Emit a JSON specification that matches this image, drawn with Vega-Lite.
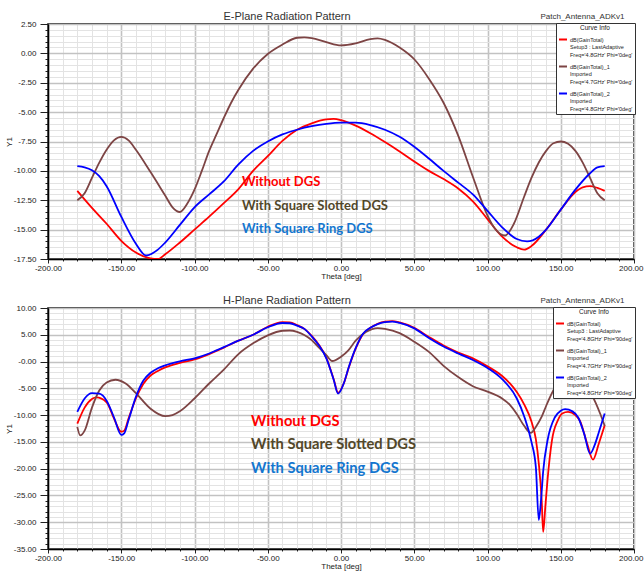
{
  "$schema": "https://vega.github.io/schema/vega-lite/v6.json",
  "background": "white",
  "padding": {"left": 4, "top": 10, "right": 0, "bottom": 0},
  "spacing": 13,
  "config": {
    "font": "Liberation Sans",
    "view": {"stroke": "black", "strokeWidth": 1.5},
    "axis": {"labelFont": "Liberation Sans", "labelFontSize": 8, "labelColor": "#222", "titleFont": "Liberation Sans", "titleFontSize": 8, "titleFontWeight": "normal", "titleColor": "#222", "domainColor": "black", "domainWidth": 1.5, "tickColor": "#222", "labelOverlap": false, "labelFlush": false}
  },
  "datasets": {
    "eplane": [
      {"curve": "dB(GainTotal)", "theta": -180, "dB": -11.7}, {"curve": "dB(GainTotal)", "theta": -170, "dB": -13.15}, {"curve": "dB(GainTotal)", "theta": -160, "dB": -14.5}, {"curve": "dB(GainTotal)", "theta": -150, "dB": -15.95}, {"curve": "dB(GainTotal)", "theta": -140, "dB": -16.95}, {"curve": "dB(GainTotal)", "theta": -130, "dB": -17.45}, {"curve": "dB(GainTotal)", "theta": -125, "dB": -17.5}, {"curve": "dB(GainTotal)", "theta": -120, "dB": -17.1}, {"curve": "dB(GainTotal)", "theta": -110, "dB": -16.1}, {"curve": "dB(GainTotal)", "theta": -100, "dB": -15.0}, {"curve": "dB(GainTotal)", "theta": -90, "dB": -13.9}, {"curve": "dB(GainTotal)", "theta": -80, "dB": -12.75}, {"curve": "dB(GainTotal)", "theta": -70, "dB": -11.55}, {"curve": "dB(GainTotal)", "theta": -60, "dB": -10.0}, {"curve": "dB(GainTotal)", "theta": -50, "dB": -8.75}, {"curve": "dB(GainTotal)", "theta": -40, "dB": -7.45}, {"curve": "dB(GainTotal)", "theta": -30, "dB": -6.5}, {"curve": "dB(GainTotal)", "theta": -20, "dB": -5.95}, {"curve": "dB(GainTotal)", "theta": -10, "dB": -5.62}, {"curve": "dB(GainTotal)", "theta": -5, "dB": -5.58}, {"curve": "dB(GainTotal)", "theta": 0, "dB": -5.68}, {"curve": "dB(GainTotal)", "theta": 10, "dB": -6.15}, {"curve": "dB(GainTotal)", "theta": 20, "dB": -6.8}, {"curve": "dB(GainTotal)", "theta": 30, "dB": -7.55}, {"curve": "dB(GainTotal)", "theta": 40, "dB": -8.35}, {"curve": "dB(GainTotal)", "theta": 50, "dB": -9.2}, {"curve": "dB(GainTotal)", "theta": 60, "dB": -10.0}, {"curve": "dB(GainTotal)", "theta": 70, "dB": -10.7}, {"curve": "dB(GainTotal)", "theta": 80, "dB": -11.5}, {"curve": "dB(GainTotal)", "theta": 90, "dB": -12.6}, {"curve": "dB(GainTotal)", "theta": 100, "dB": -14.1}, {"curve": "dB(GainTotal)", "theta": 110, "dB": -15.6}, {"curve": "dB(GainTotal)", "theta": 120, "dB": -16.5}, {"curve": "dB(GainTotal)", "theta": 125, "dB": -16.7}, {"curve": "dB(GainTotal)", "theta": 130, "dB": -16.4}, {"curve": "dB(GainTotal)", "theta": 140, "dB": -15.0}, {"curve": "dB(GainTotal)", "theta": 150, "dB": -13.3}, {"curve": "dB(GainTotal)", "theta": 160, "dB": -11.8}, {"curve": "dB(GainTotal)", "theta": 165, "dB": -11.4}, {"curve": "dB(GainTotal)", "theta": 170, "dB": -11.3}, {"curve": "dB(GainTotal)", "theta": 175, "dB": -11.45}, {"curve": "dB(GainTotal)", "theta": 180, "dB": -11.7},
      {"curve": "dB(GainTotal)_1", "theta": -180, "dB": -12.5}, {"curve": "dB(GainTotal)_1", "theta": -175, "dB": -11.9}, {"curve": "dB(GainTotal)_1", "theta": -170, "dB": -10.6}, {"curve": "dB(GainTotal)_1", "theta": -165, "dB": -9.3}, {"curve": "dB(GainTotal)_1", "theta": -160, "dB": -8.2}, {"curve": "dB(GainTotal)_1", "theta": -155, "dB": -7.4}, {"curve": "dB(GainTotal)_1", "theta": -150, "dB": -7.1}, {"curve": "dB(GainTotal)_1", "theta": -145, "dB": -7.4}, {"curve": "dB(GainTotal)_1", "theta": -140, "dB": -8.2}, {"curve": "dB(GainTotal)_1", "theta": -130, "dB": -10.1}, {"curve": "dB(GainTotal)_1", "theta": -120, "dB": -12.1}, {"curve": "dB(GainTotal)_1", "theta": -115, "dB": -13.1}, {"curve": "dB(GainTotal)_1", "theta": -110, "dB": -13.5}, {"curve": "dB(GainTotal)_1", "theta": -105, "dB": -12.8}, {"curve": "dB(GainTotal)_1", "theta": -100, "dB": -11.6}, {"curve": "dB(GainTotal)_1", "theta": -95, "dB": -10.0}, {"curve": "dB(GainTotal)_1", "theta": -90, "dB": -8.3}, {"curve": "dB(GainTotal)_1", "theta": -85, "dB": -6.9}, {"curve": "dB(GainTotal)_1", "theta": -80, "dB": -5.5}, {"curve": "dB(GainTotal)_1", "theta": -75, "dB": -4.2}, {"curve": "dB(GainTotal)_1", "theta": -70, "dB": -3.1}, {"curve": "dB(GainTotal)_1", "theta": -60, "dB": -1.3}, {"curve": "dB(GainTotal)_1", "theta": -50, "dB": -0.05}, {"curve": "dB(GainTotal)_1", "theta": -40, "dB": 0.75}, {"curve": "dB(GainTotal)_1", "theta": -30, "dB": 1.33}, {"curve": "dB(GainTotal)_1", "theta": -25, "dB": 1.37}, {"curve": "dB(GainTotal)_1", "theta": -20, "dB": 1.3}, {"curve": "dB(GainTotal)_1", "theta": -10, "dB": 0.95}, {"curve": "dB(GainTotal)_1", "theta": 0, "dB": 0.68}, {"curve": "dB(GainTotal)_1", "theta": 10, "dB": 0.85}, {"curve": "dB(GainTotal)_1", "theta": 20, "dB": 1.22}, {"curve": "dB(GainTotal)_1", "theta": 25, "dB": 1.28}, {"curve": "dB(GainTotal)_1", "theta": 30, "dB": 1.15}, {"curve": "dB(GainTotal)_1", "theta": 40, "dB": 0.5}, {"curve": "dB(GainTotal)_1", "theta": 50, "dB": -0.5}, {"curve": "dB(GainTotal)_1", "theta": 60, "dB": -2.15}, {"curve": "dB(GainTotal)_1", "theta": 70, "dB": -4.2}, {"curve": "dB(GainTotal)_1", "theta": 80, "dB": -7.0}, {"curve": "dB(GainTotal)_1", "theta": 90, "dB": -10.5}, {"curve": "dB(GainTotal)_1", "theta": 100, "dB": -13.8}, {"curve": "dB(GainTotal)_1", "theta": 105, "dB": -14.9}, {"curve": "dB(GainTotal)_1", "theta": 112, "dB": -15.5}, {"curve": "dB(GainTotal)_1", "theta": 118, "dB": -14.5}, {"curve": "dB(GainTotal)_1", "theta": 125, "dB": -12.2}, {"curve": "dB(GainTotal)_1", "theta": 130, "dB": -10.6}, {"curve": "dB(GainTotal)_1", "theta": 140, "dB": -8.3}, {"curve": "dB(GainTotal)_1", "theta": 145, "dB": -7.65}, {"curve": "dB(GainTotal)_1", "theta": 150, "dB": -7.5}, {"curve": "dB(GainTotal)_1", "theta": 155, "dB": -7.7}, {"curve": "dB(GainTotal)_1", "theta": 160, "dB": -8.3}, {"curve": "dB(GainTotal)_1", "theta": 165, "dB": -9.3}, {"curve": "dB(GainTotal)_1", "theta": 170, "dB": -10.6}, {"curve": "dB(GainTotal)_1", "theta": 175, "dB": -11.9}, {"curve": "dB(GainTotal)_1", "theta": 180, "dB": -12.5},
      {"curve": "dB(GainTotal)_2", "theta": -180, "dB": -9.6}, {"curve": "dB(GainTotal)_2", "theta": -175, "dB": -9.7}, {"curve": "dB(GainTotal)_2", "theta": -170, "dB": -9.95}, {"curve": "dB(GainTotal)_2", "theta": -165, "dB": -10.45}, {"curve": "dB(GainTotal)_2", "theta": -160, "dB": -11.3}, {"curve": "dB(GainTotal)_2", "theta": -150, "dB": -13.9}, {"curve": "dB(GainTotal)_2", "theta": -140, "dB": -16.2}, {"curve": "dB(GainTotal)_2", "theta": -133, "dB": -17.2}, {"curve": "dB(GainTotal)_2", "theta": -125, "dB": -16.7}, {"curve": "dB(GainTotal)_2", "theta": -120, "dB": -16.1}, {"curve": "dB(GainTotal)_2", "theta": -110, "dB": -14.6}, {"curve": "dB(GainTotal)_2", "theta": -100, "dB": -13.1}, {"curve": "dB(GainTotal)_2", "theta": -90, "dB": -12.0}, {"curve": "dB(GainTotal)_2", "theta": -80, "dB": -10.9}, {"curve": "dB(GainTotal)_2", "theta": -70, "dB": -9.45}, {"curve": "dB(GainTotal)_2", "theta": -60, "dB": -8.3}, {"curve": "dB(GainTotal)_2", "theta": -50, "dB": -7.5}, {"curve": "dB(GainTotal)_2", "theta": -40, "dB": -6.9}, {"curve": "dB(GainTotal)_2", "theta": -30, "dB": -6.5}, {"curve": "dB(GainTotal)_2", "theta": -20, "dB": -6.2}, {"curve": "dB(GainTotal)_2", "theta": -10, "dB": -6.0}, {"curve": "dB(GainTotal)_2", "theta": 0, "dB": -5.9}, {"curve": "dB(GainTotal)_2", "theta": 10, "dB": -5.9}, {"curve": "dB(GainTotal)_2", "theta": 20, "dB": -6.1}, {"curve": "dB(GainTotal)_2", "theta": 30, "dB": -6.5}, {"curve": "dB(GainTotal)_2", "theta": 40, "dB": -7.1}, {"curve": "dB(GainTotal)_2", "theta": 50, "dB": -7.95}, {"curve": "dB(GainTotal)_2", "theta": 60, "dB": -8.95}, {"curve": "dB(GainTotal)_2", "theta": 70, "dB": -10.0}, {"curve": "dB(GainTotal)_2", "theta": 80, "dB": -11.0}, {"curve": "dB(GainTotal)_2", "theta": 90, "dB": -12.0}, {"curve": "dB(GainTotal)_2", "theta": 100, "dB": -13.4}, {"curve": "dB(GainTotal)_2", "theta": 110, "dB": -14.8}, {"curve": "dB(GainTotal)_2", "theta": 120, "dB": -15.8}, {"curve": "dB(GainTotal)_2", "theta": 127, "dB": -16.0}, {"curve": "dB(GainTotal)_2", "theta": 135, "dB": -15.6}, {"curve": "dB(GainTotal)_2", "theta": 140, "dB": -15.0}, {"curve": "dB(GainTotal)_2", "theta": 150, "dB": -13.3}, {"curve": "dB(GainTotal)_2", "theta": 160, "dB": -11.6}, {"curve": "dB(GainTotal)_2", "theta": 170, "dB": -10.2}, {"curve": "dB(GainTotal)_2", "theta": 175, "dB": -9.7}, {"curve": "dB(GainTotal)_2", "theta": 180, "dB": -9.6}
    ],
    "hplane": [
      {"curve": "dB(GainTotal)", "theta": -180, "dB": -11.6}, {"curve": "dB(GainTotal)", "theta": -175, "dB": -8.6}, {"curve": "dB(GainTotal)", "theta": -170, "dB": -7.0}, {"curve": "dB(GainTotal)", "theta": -167, "dB": -6.7}, {"curve": "dB(GainTotal)", "theta": -160, "dB": -7.6}, {"curve": "dB(GainTotal)", "theta": -155, "dB": -10.6}, {"curve": "dB(GainTotal)", "theta": -150, "dB": -13.1}, {"curve": "dB(GainTotal)", "theta": -148, "dB": -12.9}, {"curve": "dB(GainTotal)", "theta": -145, "dB": -10.6}, {"curve": "dB(GainTotal)", "theta": -140, "dB": -6.9}, {"curve": "dB(GainTotal)", "theta": -135, "dB": -4.2}, {"curve": "dB(GainTotal)", "theta": -130, "dB": -2.6}, {"curve": "dB(GainTotal)", "theta": -125, "dB": -1.75}, {"curve": "dB(GainTotal)", "theta": -120, "dB": -1.1}, {"curve": "dB(GainTotal)", "theta": -110, "dB": -0.25}, {"curve": "dB(GainTotal)", "theta": -100, "dB": 0.4}, {"curve": "dB(GainTotal)", "theta": -90, "dB": 1.4}, {"curve": "dB(GainTotal)", "theta": -80, "dB": 2.6}, {"curve": "dB(GainTotal)", "theta": -70, "dB": 3.9}, {"curve": "dB(GainTotal)", "theta": -60, "dB": 5.0}, {"curve": "dB(GainTotal)", "theta": -50, "dB": 6.5}, {"curve": "dB(GainTotal)", "theta": -40, "dB": 7.35}, {"curve": "dB(GainTotal)", "theta": -35, "dB": 7.3}, {"curve": "dB(GainTotal)", "theta": -30, "dB": 6.8}, {"curve": "dB(GainTotal)", "theta": -25, "dB": 6.1}, {"curve": "dB(GainTotal)", "theta": -20, "dB": 4.8}, {"curve": "dB(GainTotal)", "theta": -15, "dB": 3.1}, {"curve": "dB(GainTotal)", "theta": -10, "dB": 0.7}, {"curve": "dB(GainTotal)", "theta": -5, "dB": -3.3}, {"curve": "dB(GainTotal)", "theta": -2, "dB": -5.8}, {"curve": "dB(GainTotal)", "theta": 2, "dB": -4.0}, {"curve": "dB(GainTotal)", "theta": 5, "dB": -1.4}, {"curve": "dB(GainTotal)", "theta": 10, "dB": 2.4}, {"curve": "dB(GainTotal)", "theta": 15, "dB": 5.1}, {"curve": "dB(GainTotal)", "theta": 20, "dB": 6.3}, {"curve": "dB(GainTotal)", "theta": 25, "dB": 7.05}, {"curve": "dB(GainTotal)", "theta": 30, "dB": 7.45}, {"curve": "dB(GainTotal)", "theta": 35, "dB": 7.55}, {"curve": "dB(GainTotal)", "theta": 40, "dB": 7.3}, {"curve": "dB(GainTotal)", "theta": 50, "dB": 6.3}, {"curve": "dB(GainTotal)", "theta": 60, "dB": 4.6}, {"curve": "dB(GainTotal)", "theta": 70, "dB": 3.0}, {"curve": "dB(GainTotal)", "theta": 80, "dB": 1.7}, {"curve": "dB(GainTotal)", "theta": 90, "dB": 0.6}, {"curve": "dB(GainTotal)", "theta": 100, "dB": -0.9}, {"curve": "dB(GainTotal)", "theta": 110, "dB": -2.7}, {"curve": "dB(GainTotal)", "theta": 115, "dB": -4.0}, {"curve": "dB(GainTotal)", "theta": 120, "dB": -5.7}, {"curve": "dB(GainTotal)", "theta": 125, "dB": -8.0}, {"curve": "dB(GainTotal)", "theta": 130, "dB": -11.2}, {"curve": "dB(GainTotal)", "theta": 133, "dB": -14.5}, {"curve": "dB(GainTotal)", "theta": 135, "dB": -19.0}, {"curve": "dB(GainTotal)", "theta": 137, "dB": -26.0}, {"curve": "dB(GainTotal)", "theta": 138, "dB": -31.8}, {"curve": "dB(GainTotal)", "theta": 139.5, "dB": -27.0}, {"curve": "dB(GainTotal)", "theta": 141, "dB": -22.0}, {"curve": "dB(GainTotal)", "theta": 144, "dB": -14.7}, {"curve": "dB(GainTotal)", "theta": 148, "dB": -11.0}, {"curve": "dB(GainTotal)", "theta": 151, "dB": -9.7}, {"curve": "dB(GainTotal)", "theta": 155, "dB": -9.4}, {"curve": "dB(GainTotal)", "theta": 160, "dB": -10.0}, {"curve": "dB(GainTotal)", "theta": 163, "dB": -11.0}, {"curve": "dB(GainTotal)", "theta": 168, "dB": -15.3}, {"curve": "dB(GainTotal)", "theta": 172, "dB": -18.3}, {"curve": "dB(GainTotal)", "theta": 176, "dB": -15.3}, {"curve": "dB(GainTotal)", "theta": 180, "dB": -11.9},
      {"curve": "dB(GainTotal)_1", "theta": -180, "dB": -12.2}, {"curve": "dB(GainTotal)_1", "theta": -178, "dB": -13.8}, {"curve": "dB(GainTotal)_1", "theta": -175, "dB": -12.9}, {"curve": "dB(GainTotal)_1", "theta": -170, "dB": -8.6}, {"curve": "dB(GainTotal)_1", "theta": -165, "dB": -5.4}, {"curve": "dB(GainTotal)_1", "theta": -160, "dB": -3.9}, {"curve": "dB(GainTotal)_1", "theta": -154, "dB": -3.4}, {"curve": "dB(GainTotal)_1", "theta": -147, "dB": -4.1}, {"curve": "dB(GainTotal)_1", "theta": -140, "dB": -5.9}, {"curve": "dB(GainTotal)_1", "theta": -130, "dB": -8.8}, {"curve": "dB(GainTotal)_1", "theta": -120, "dB": -10.2}, {"curve": "dB(GainTotal)_1", "theta": -115, "dB": -10.0}, {"curve": "dB(GainTotal)_1", "theta": -110, "dB": -9.3}, {"curve": "dB(GainTotal)_1", "theta": -100, "dB": -6.9}, {"curve": "dB(GainTotal)_1", "theta": -90, "dB": -4.1}, {"curve": "dB(GainTotal)_1", "theta": -80, "dB": -1.5}, {"curve": "dB(GainTotal)_1", "theta": -70, "dB": 1.4}, {"curve": "dB(GainTotal)_1", "theta": -60, "dB": 3.4}, {"curve": "dB(GainTotal)_1", "theta": -50, "dB": 4.9}, {"curve": "dB(GainTotal)_1", "theta": -40, "dB": 5.75}, {"curve": "dB(GainTotal)_1", "theta": -35, "dB": 5.8}, {"curve": "dB(GainTotal)_1", "theta": -30, "dB": 5.55}, {"curve": "dB(GainTotal)_1", "theta": -20, "dB": 4.0}, {"curve": "dB(GainTotal)_1", "theta": -15, "dB": 2.6}, {"curve": "dB(GainTotal)_1", "theta": -10, "dB": 1.2}, {"curve": "dB(GainTotal)_1", "theta": -6, "dB": 0.1}, {"curve": "dB(GainTotal)_1", "theta": 0, "dB": 0.9}, {"curve": "dB(GainTotal)_1", "theta": 5, "dB": 2.1}, {"curve": "dB(GainTotal)_1", "theta": 10, "dB": 3.9}, {"curve": "dB(GainTotal)_1", "theta": 17, "dB": 5.5}, {"curve": "dB(GainTotal)_1", "theta": 25, "dB": 6.25}, {"curve": "dB(GainTotal)_1", "theta": 30, "dB": 6.1}, {"curve": "dB(GainTotal)_1", "theta": 40, "dB": 5.3}, {"curve": "dB(GainTotal)_1", "theta": 50, "dB": 3.7}, {"curve": "dB(GainTotal)_1", "theta": 60, "dB": 1.8}, {"curve": "dB(GainTotal)_1", "theta": 70, "dB": -0.8}, {"curve": "dB(GainTotal)_1", "theta": 80, "dB": -2.9}, {"curve": "dB(GainTotal)_1", "theta": 90, "dB": -4.6}, {"curve": "dB(GainTotal)_1", "theta": 100, "dB": -5.6}, {"curve": "dB(GainTotal)_1", "theta": 110, "dB": -6.9}, {"curve": "dB(GainTotal)_1", "theta": 115, "dB": -8.0}, {"curve": "dB(GainTotal)_1", "theta": 120, "dB": -9.8}, {"curve": "dB(GainTotal)_1", "theta": 125, "dB": -12.0}, {"curve": "dB(GainTotal)_1", "theta": 129.5, "dB": -13.3}, {"curve": "dB(GainTotal)_1", "theta": 133, "dB": -12.2}, {"curve": "dB(GainTotal)_1", "theta": 137, "dB": -10.3}, {"curve": "dB(GainTotal)_1", "theta": 140, "dB": -8.3}, {"curve": "dB(GainTotal)_1", "theta": 146, "dB": -4.9}, {"curve": "dB(GainTotal)_1", "theta": 150, "dB": -3.6}, {"curve": "dB(GainTotal)_1", "theta": 155, "dB": -2.6}, {"curve": "dB(GainTotal)_1", "theta": 160, "dB": -2.3}, {"curve": "dB(GainTotal)_1", "theta": 165, "dB": -3.3}, {"curve": "dB(GainTotal)_1", "theta": 170, "dB": -5.6}, {"curve": "dB(GainTotal)_1", "theta": 174, "dB": -7.8}, {"curve": "dB(GainTotal)_1", "theta": 177, "dB": -9.8}, {"curve": "dB(GainTotal)_1", "theta": 180, "dB": -12.0},
      {"curve": "dB(GainTotal)_2", "theta": -180, "dB": -9.4}, {"curve": "dB(GainTotal)_2", "theta": -175, "dB": -6.9}, {"curve": "dB(GainTotal)_2", "theta": -170, "dB": -5.9}, {"curve": "dB(GainTotal)_2", "theta": -165, "dB": -6.0}, {"curve": "dB(GainTotal)_2", "theta": -160, "dB": -7.3}, {"curve": "dB(GainTotal)_2", "theta": -155, "dB": -10.4}, {"curve": "dB(GainTotal)_2", "theta": -150, "dB": -13.7}, {"curve": "dB(GainTotal)_2", "theta": -148, "dB": -13.4}, {"curve": "dB(GainTotal)_2", "theta": -145, "dB": -10.9}, {"curve": "dB(GainTotal)_2", "theta": -140, "dB": -6.6}, {"curve": "dB(GainTotal)_2", "theta": -135, "dB": -3.6}, {"curve": "dB(GainTotal)_2", "theta": -130, "dB": -2.1}, {"curve": "dB(GainTotal)_2", "theta": -125, "dB": -1.25}, {"curve": "dB(GainTotal)_2", "theta": -120, "dB": -0.7}, {"curve": "dB(GainTotal)_2", "theta": -110, "dB": 0.05}, {"curve": "dB(GainTotal)_2", "theta": -100, "dB": 0.6}, {"curve": "dB(GainTotal)_2", "theta": -90, "dB": 1.5}, {"curve": "dB(GainTotal)_2", "theta": -80, "dB": 2.7}, {"curve": "dB(GainTotal)_2", "theta": -70, "dB": 3.9}, {"curve": "dB(GainTotal)_2", "theta": -60, "dB": 5.0}, {"curve": "dB(GainTotal)_2", "theta": -50, "dB": 6.4}, {"curve": "dB(GainTotal)_2", "theta": -40, "dB": 7.2}, {"curve": "dB(GainTotal)_2", "theta": -35, "dB": 7.15}, {"curve": "dB(GainTotal)_2", "theta": -30, "dB": 6.7}, {"curve": "dB(GainTotal)_2", "theta": -25, "dB": 6.1}, {"curve": "dB(GainTotal)_2", "theta": -20, "dB": 4.7}, {"curve": "dB(GainTotal)_2", "theta": -15, "dB": 3.0}, {"curve": "dB(GainTotal)_2", "theta": -10, "dB": 0.6}, {"curve": "dB(GainTotal)_2", "theta": -5, "dB": -3.4}, {"curve": "dB(GainTotal)_2", "theta": -2, "dB": -6.0}, {"curve": "dB(GainTotal)_2", "theta": 2, "dB": -4.0}, {"curve": "dB(GainTotal)_2", "theta": 5, "dB": -1.3}, {"curve": "dB(GainTotal)_2", "theta": 10, "dB": 2.5}, {"curve": "dB(GainTotal)_2", "theta": 15, "dB": 5.2}, {"curve": "dB(GainTotal)_2", "theta": 20, "dB": 6.3}, {"curve": "dB(GainTotal)_2", "theta": 25, "dB": 7.0}, {"curve": "dB(GainTotal)_2", "theta": 30, "dB": 7.35}, {"curve": "dB(GainTotal)_2", "theta": 35, "dB": 7.45}, {"curve": "dB(GainTotal)_2", "theta": 40, "dB": 7.2}, {"curve": "dB(GainTotal)_2", "theta": 50, "dB": 6.2}, {"curve": "dB(GainTotal)_2", "theta": 60, "dB": 4.4}, {"curve": "dB(GainTotal)_2", "theta": 70, "dB": 2.8}, {"curve": "dB(GainTotal)_2", "theta": 80, "dB": 1.5}, {"curve": "dB(GainTotal)_2", "theta": 90, "dB": 0.3}, {"curve": "dB(GainTotal)_2", "theta": 100, "dB": -1.2}, {"curve": "dB(GainTotal)_2", "theta": 110, "dB": -3.3}, {"curve": "dB(GainTotal)_2", "theta": 120, "dB": -6.9}, {"curve": "dB(GainTotal)_2", "theta": 125, "dB": -10.2}, {"curve": "dB(GainTotal)_2", "theta": 130, "dB": -15.0}, {"curve": "dB(GainTotal)_2", "theta": 133, "dB": -19.7}, {"curve": "dB(GainTotal)_2", "theta": 135, "dB": -29.6}, {"curve": "dB(GainTotal)_2", "theta": 136.5, "dB": -26.0}, {"curve": "dB(GainTotal)_2", "theta": 138, "dB": -20.5}, {"curve": "dB(GainTotal)_2", "theta": 141, "dB": -14.7}, {"curve": "dB(GainTotal)_2", "theta": 146, "dB": -10.4}, {"curve": "dB(GainTotal)_2", "theta": 150, "dB": -9.2}, {"curve": "dB(GainTotal)_2", "theta": 153, "dB": -8.9}, {"curve": "dB(GainTotal)_2", "theta": 158, "dB": -9.3}, {"curve": "dB(GainTotal)_2", "theta": 162, "dB": -10.5}, {"curve": "dB(GainTotal)_2", "theta": 166, "dB": -13.5}, {"curve": "dB(GainTotal)_2", "theta": 170, "dB": -17.2}, {"curve": "dB(GainTotal)_2", "theta": 173, "dB": -15.7}, {"curve": "dB(GainTotal)_2", "theta": 176, "dB": -13.2}, {"curve": "dB(GainTotal)_2", "theta": 180, "dB": -9.7}
    ],
    "notesE": [
      {"theta": -67.6, "dB": -10.95, "label": "Without DGS"},
      {"theta": -67.6, "dB": -12.99, "label": "With Square Slotted DGS"},
      {"theta": -67.6, "dB": -14.95, "label": "With Square Ring DGS"}
    ],
    "notesH": [
      {"theta": -61.4, "dB": -11.34, "label": "Without DGS"},
      {"theta": -61.4, "dB": -15.6, "label": "With Square Slotted DGS"},
      {"theta": -61.4, "dB": -20.1, "label": "With Square Ring DGS"}
    ]
  },
  "vconcat": [
    {
      "width": 586, "height": 235,
      "title": {"text": "E-Plane Radiation Pattern", "fontSize": 11, "fontWeight": "normal", "color": "#333", "font": "Liberation Sans", "frame": "group", "anchor": "middle", "dx": -54, "offset": -10},
      "layer": [
        {
          "data": {"name": "eplane"},
          "mark": {"type": "line", "strokeWidth": 1.8, "interpolate": "monotone", "clip": true},
          "encoding": {
            "x": {"field": "theta", "type": "quantitative", "scale": {"domain": [-200, 200], "nice": false, "zero": false},
              "axis": {"title": "Theta [deg]", "titlePadding": 0, "grid": true, "labelOverlap": false, "values": [-200,-190,-180,-170,-160,-150,-140,-130,-120,-110,-100,-90,-80,-70,-60,-50,-40,-30,-20,-10,0,10,20,30,40,50,60,70,80,90,100,110,120,130,140,150,160,170,180,190,200],
                "labelExpr": "datum.value % 50 === 0 ? replace(format(datum.value, '.2f'), '\u2212', '-') : ''",
                "labelAlign": {"condition": {"test": "datum.value === 200", "value": "right"}, "value": "center"},
                "labelOffset": {"condition": {"test": "datum.value === 200", "value": 9}, "value": 0},
                "gridColor": {"condition": {"test": "datum.value % 50 === 0", "value": "#c2c2c2"}, "value": "#e3e3e3"},
                "gridWidth": {"condition": {"test": "datum.value % 50 === 0", "value": 1.6}, "value": 1},
                "tickSize": {"condition": {"test": "datum.value % 50 === 0", "value": 4}, "value": 2},
                "labelPadding": 1}},
            "y": {"field": "dB", "type": "quantitative", "scale": {"domain": [-17.5, 2.5], "nice": false, "zero": false},
              "axis": {"title": "Y1", "titlePadding": 0, "grid": true, "labelOverlap": false, "values": [-17.5,-17,-16.5,-16,-15.5,-15,-14.5,-14,-13.5,-13,-12.5,-12,-11.5,-11,-10.5,-10,-9.5,-9,-8.5,-8,-7.5,-7,-6.5,-6,-5.5,-5,-4.5,-4,-3.5,-3,-2.5,-2,-1.5,-1,-0.5,0,0.5,1,1.5,2,2.5],
                "labelExpr": "datum.value % 2.5 === 0 ? replace(format(datum.value, '.2f'), '\u2212', '-') : ''",
                "gridColor": {"condition": {"test": "datum.value % 2.5 === 0", "value": "#c2c2c2"}, "value": "#e3e3e3"},
                "gridWidth": {"condition": {"test": "datum.value % 2.5 === 0", "value": 1.6}, "value": 1},
                "tickSize": {"condition": {"test": "datum.value % 2.5 === 0", "value": 8}, "value": 3},
                "labelPadding": 4}},
            "color": {"field": "curve", "type": "nominal",
              "scale": {"domain": ["dB(GainTotal)", "dB(GainTotal)_1", "dB(GainTotal)_2"], "range": ["#ff0000", "#7d4444", "#0000ff"]},
              "legend": {"title": "Curve Info", "orient": "top-right", "offset": -1, "fillColor": "white", "strokeColor": "#333", "padding": 2,
                "titleFontSize": 6.5, "titleFontWeight": "normal", "titleColor": "#222", "titleAnchor": "middle", "titlePadding": 3,
                "labelFontSize": 5.5, "labelColor": "#222", "labelFont": "Liberation Sans", "symbolType": "stroke", "symbolStrokeWidth": 2, "symbolSize": 64, "rowPadding": 3, "labelOffset": 2,
                "labelExpr": "datum.value === 'dB(GainTotal)' ? ['dB(GainTotal)', 'Setup3 : LastAdaptive', \"Freq='4.8GHz' Phi='0deg'\"] : datum.value === 'dB(GainTotal)_1' ? ['dB(GainTotal)_1', 'Imported', \"Freq='4.7GHz' Phi='0deg'\"] : ['dB(GainTotal)_2', 'Imported', \"Freq='4.8GHz' Phi='0deg'\"]"}}
          }
        },
        {
          "data": {"name": "notesE"},
          "mark": {"type": "text", "align": "left", "baseline": "middle", "font": "Lato", "fontWeight": "bold", "fontSize": 13},
          "encoding": {
            "x": {"field": "theta", "type": "quantitative", "axis": {"orient": "top", "title": "Patch_Antenna_ADKv1", "titleAnchor": "end", "titleX": 576, "titleAlign": "right", "labels": false, "ticks": false, "grid": false, "domain": false, "titlePadding": 4, "titleFontSize": 8, "titleColor": "#333"}},
            "y": {"field": "dB", "type": "quantitative", "axis": null},
            "text": {"field": "label"},
            "color": {"field": "label", "type": "nominal", "scale": {"domain": ["Without DGS", "With Square Slotted DGS", "With Square Ring DGS"], "range": ["#ff0000", "#524729", "#1376cf"]}, "legend": null}
          }
        }
      ],
      "resolve": {"scale": {"color": "independent"}, "axis": {"x": "independent", "y": "independent"}}
    },
    {
      "width": 586, "height": 241,
      "title": {"text": "H-Plane Radiation Pattern", "fontSize": 11, "fontWeight": "normal", "color": "#333", "font": "Liberation Sans", "frame": "group", "anchor": "middle", "dx": -54, "offset": -10},
      "layer": [
        {
          "data": {"name": "hplane"},
          "mark": {"type": "line", "strokeWidth": 1.8, "interpolate": "monotone", "clip": true},
          "encoding": {
            "x": {"field": "theta", "type": "quantitative", "scale": {"domain": [-200, 200], "nice": false, "zero": false},
              "axis": {"title": "Theta [deg]", "titlePadding": 0, "grid": true, "labelOverlap": false, "values": [-200,-190,-180,-170,-160,-150,-140,-130,-120,-110,-100,-90,-80,-70,-60,-50,-40,-30,-20,-10,0,10,20,30,40,50,60,70,80,90,100,110,120,130,140,150,160,170,180,190,200],
                "labelExpr": "datum.value % 50 === 0 ? replace(format(datum.value, '.2f'), '\u2212', '-') : ''",
                "labelAlign": {"condition": {"test": "datum.value === 200", "value": "right"}, "value": "center"},
                "labelOffset": {"condition": {"test": "datum.value === 200", "value": 9}, "value": 0},
                "gridColor": {"condition": {"test": "datum.value % 50 === 0", "value": "#c2c2c2"}, "value": "#e3e3e3"},
                "gridWidth": {"condition": {"test": "datum.value % 50 === 0", "value": 1.6}, "value": 1},
                "tickSize": {"condition": {"test": "datum.value % 50 === 0", "value": 4}, "value": 2},
                "labelPadding": 1}},
            "y": {"field": "dB", "type": "quantitative", "scale": {"domain": [-35, 10], "nice": false, "zero": false},
              "axis": {"title": "Y1", "titlePadding": 0, "grid": true, "labelOverlap": false, "values": [-35,-34,-33,-32,-31,-30,-29,-28,-27,-26,-25,-24,-23,-22,-21,-20,-19,-18,-17,-16,-15,-14,-13,-12,-11,-10,-9,-8,-7,-6,-5,-4,-3,-2,-1,0,1,2,3,4,5,6,7,8,9,10],
                "labelExpr": "datum.value % 5 === 0 ? (datum.value === 0 ? '-0.00' : replace(format(datum.value, '.2f'), '\u2212', '-')) : ''",
                "gridColor": {"condition": {"test": "datum.value % 5 === 0", "value": "#c2c2c2"}, "value": "#e3e3e3"},
                "gridWidth": {"condition": {"test": "datum.value % 5 === 0", "value": 1.6}, "value": 1},
                "tickSize": {"condition": {"test": "datum.value % 5 === 0", "value": 8}, "value": 3},
                "labelPadding": 4}},
            "color": {"field": "curve", "type": "nominal",
              "scale": {"domain": ["dB(GainTotal)", "dB(GainTotal)_1", "dB(GainTotal)_2"], "range": ["#ff0000", "#7d4444", "#0000ff"]},
              "legend": {"title": "Curve Info", "orient": "top-right", "offset": -1, "fillColor": "white", "strokeColor": "#333", "padding": 2,
                "titleFontSize": 6.5, "titleFontWeight": "normal", "titleColor": "#222", "titleAnchor": "middle", "titlePadding": 3,
                "labelFontSize": 5.5, "labelColor": "#222", "labelFont": "Liberation Sans", "symbolType": "stroke", "symbolStrokeWidth": 2, "symbolSize": 64, "rowPadding": 3, "labelOffset": 2,
                "labelExpr": "datum.value === 'dB(GainTotal)' ? ['dB(GainTotal)', 'Setup3 : LastAdaptive', \"Freq='4.8GHz' Phi='90deg'\"] : datum.value === 'dB(GainTotal)_1' ? ['dB(GainTotal)_1', 'Imported', \"Freq='4.7GHz' Phi='90deg'\"] : ['dB(GainTotal)_2', 'Imported', \"Freq='4.8GHz' Phi='90deg'\"]"}}
          }
        },
        {
          "data": {"name": "notesH"},
          "mark": {"type": "text", "align": "left", "baseline": "middle", "font": "Lato", "fontWeight": "bold", "fontSize": 14.7},
          "encoding": {
            "x": {"field": "theta", "type": "quantitative", "axis": {"orient": "top", "title": "Patch_Antenna_ADKv1", "titleAnchor": "end", "titleX": 576, "titleAlign": "right", "labels": false, "ticks": false, "grid": false, "domain": false, "titlePadding": 4, "titleFontSize": 8, "titleColor": "#333"}},
            "y": {"field": "dB", "type": "quantitative", "axis": null},
            "text": {"field": "label"},
            "color": {"field": "label", "type": "nominal", "scale": {"domain": ["Without DGS", "With Square Slotted DGS", "With Square Ring DGS"], "range": ["#ff0000", "#524729", "#1376cf"]}, "legend": null}
          }
        }
      ],
      "resolve": {"scale": {"color": "independent"}, "axis": {"x": "independent", "y": "independent"}}
    }
  ]
}
